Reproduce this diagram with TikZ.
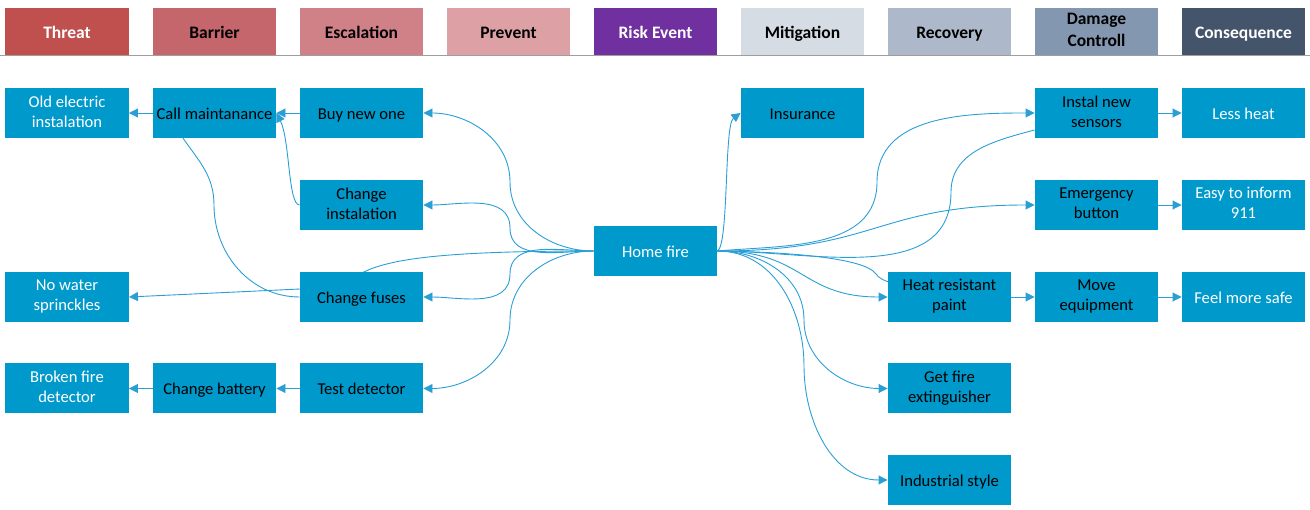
\documentclass[tikz,border=0pt]{standalone}
\usepackage{fontspec}
\setmainfont{Carlito}
\usetikzlibrary{arrows.meta,backgrounds}
\definecolor{nodeblue}{HTML}{0099CC}
\definecolor{linkblue}{HTML}{2A9FD6}
\definecolor{hThreat}{HTML}{C0504D}
\definecolor{hBarrier}{HTML}{C4666C}
\definecolor{hEscal}{HTML}{D08087}
\definecolor{hPrevent}{HTML}{DDA0A5}
\definecolor{hRisk}{HTML}{7030A0}
\definecolor{hMitig}{HTML}{D6DCE4}
\definecolor{hRecov}{HTML}{ADB9CA}
\definecolor{hDamage}{HTML}{8497B0}
\definecolor{hConseq}{HTML}{44546A}
\begin{document}
\begin{tikzpicture}[x=1pt,y=-1pt,
  box/.style={fill=nodeblue, minimum width=123.5pt, minimum height=50pt, inner sep=1pt, align=center, font=\fontsize{16.6}{20}\selectfont, text=black,
    execute at begin node={\rule{0pt}{16.5pt}}, execute at end node={\rule[-3.5pt]{0pt}{3.5pt}}},
  wbox/.style={box, text=white},
  twoline/.style={execute at begin node={\rule{0pt}{20.5pt}}},
  head/.style={minimum width=123.5pt, minimum height=47pt, inner sep=1pt, align=center, font=\fontsize{17.5}{22.5}\selectfont\bfseries,
    execute at begin node={\rule{0pt}{17pt}}, execute at end node={\rule[-3.5pt]{0pt}{3.5pt}}},
  link/.style={draw=linkblue, line width=0.9pt, -{Triangle[length=9pt,width=9pt]}},
  plainlink/.style={draw=linkblue, line width=0.9pt}]
\useasboundingbox (0,0) rectangle (1310,510);
% header
\draw[black!38, line width=1.5pt] (0,55.5) -- (1310,55.5);
\node[head, fill=hThreat, text=white] (h1) at (67,31.5) {Threat};
\node[head, fill=hBarrier] (h2) at (214.5,31.5) {Barrier};
\node[head, fill=hEscal] (h3) at (361.5,31.5) {Escalation};
\node[head, fill=hPrevent] (h4) at (508.5,31.5) {Prevent};
\node[head, fill=hRisk, text=white] (h5) at (655.5,31.5) {Risk Event};
\node[head, fill=hMitig] (h6) at (802.5,31.5) {Mitigation};
\node[head, fill=hRecov] (h7) at (949.5,31.5) {Recovery};
\node[head, fill=hDamage, execute at begin node={\rule{0pt}{22pt}}] (h8) at (1096.5,31.5) {Damage\\Controll};
\node[head, fill=hConseq, text=white] (h9) at (1243.5,31.5) {Consequence};
% nodes left
\node[wbox, twoline] (oe) at (67,113) {Old electric\\instalation};
\node[box] (cm) at (214.5,113) {Call maintanance};
\node[box] (bn) at (361.5,113) {Buy new one};
\node[box, twoline] (ci) at (361.5,205) {Change\\instalation};
\node[wbox] (hf) at (655.5,251) {Home fire};
\node[wbox, twoline] (nw) at (67,297) {No water\\sprinckles};
\node[box] (cf) at (361.5,297) {Change fuses};
\node[wbox, twoline] (bf) at (67,388.5) {Broken fire\\detector};
\node[box] (cb) at (214.5,388.5) {Change battery};
\node[box] (td) at (361.5,388.5) {Test detector};
% nodes right
\node[box] (ins) at (802.5,113) {Insurance};
\node[box, twoline] (ns) at (1096.5,113) {Instal new\\sensors};
\node[wbox] (lh) at (1243.5,113) {Less heat};
\node[box, twoline] (eb) at (1096.5,205) {Emergency\\button};
\node[wbox, twoline] (e911) at (1243.5,205) {Easy to inform\\911};
\node[box, twoline] (hp) at (949.5,297) {Heat resistant\\paint};
\node[box, twoline] (me) at (1096.5,297) {Move\\equipment};
\node[wbox] (fs) at (1243.5,297) {Feel more safe};
\node[box, twoline] (gf) at (949.5,388.5) {Get fire\\extinguisher};
\node[box] (is) at (949.5,480) {Industrial style};
\begin{scope}[on background layer]
% left side
\path[link] (hf.west) to[out=180,in=-90] (510,182) to[out=90,in=0] (bn.east);
\path[link] (hf.west) to[out=180,in=-90] (510,228) to[out=90,in=0] (ci.east);
\path[link] (hf.west) to[out=180,in=90] (510,274) to[out=-90,in=0] (cf.east);
\path[link] (hf.west) to[out=180,in=90] (510,320) to[out=-90,in=0] (td.east);
\path[link] (hf.west) .. controls (450,251) and (390,258) .. (362,273) .. controls (340,285) and (315,289) .. (300,289) -- (nw.east);
\path[plainlink] (cf.west) to[out=180,in=-90] (214,205) to[out=90,in=-55] ([xshift=-31.5pt]cm.south);
\path[link] (ci.west) .. controls (288,205) and (290,140) .. (cm.east);
\path[link] (bn.west) -- (cm.east);
\path[link] (cm.west) -- (oe.east);
\path[link] (td.west) -- (cb.east);
\path[link] (cb.west) -- (bf.east);
% right side
\path[link] (hf.east) .. controls (729,245) and (724,125) .. (ins.west);
\path[link] (hf.east) to[out=5,in=-90] (877,182) to[out=90,in=180] (ns.west);
\path[plainlink] ([yshift=-17pt]ns.west) to[out=195,in=90] (951,192) to[out=-90,in=0] (hf.east);
\path[link] (hf.east) .. controls (877,251) and (877,205) .. (eb.west);
\path[plainlink] (hf.east) .. controls (790,252) and (865,258) .. (876,274) .. controls (881,281) and (890,284) .. (hp.center);
\path[link] (hf.east) .. controls (805,251) and (800,297) .. (hp.west);
\path[link] (hf.east) to[out=0,in=90] (804,320) to[out=-90,in=180] (gf.west);
\path[link] (hf.east) to[out=0,in=90] (804,366) to[out=-90,in=180] (is.west);
\path[link] (ns.east) -- (lh.west);
\path[link] (eb.east) -- (e911.west);
\path[link] (hp.east) -- (me.west);
\path[link] (me.east) -- (fs.west);
\end{scope}
\end{tikzpicture}
\end{document}
